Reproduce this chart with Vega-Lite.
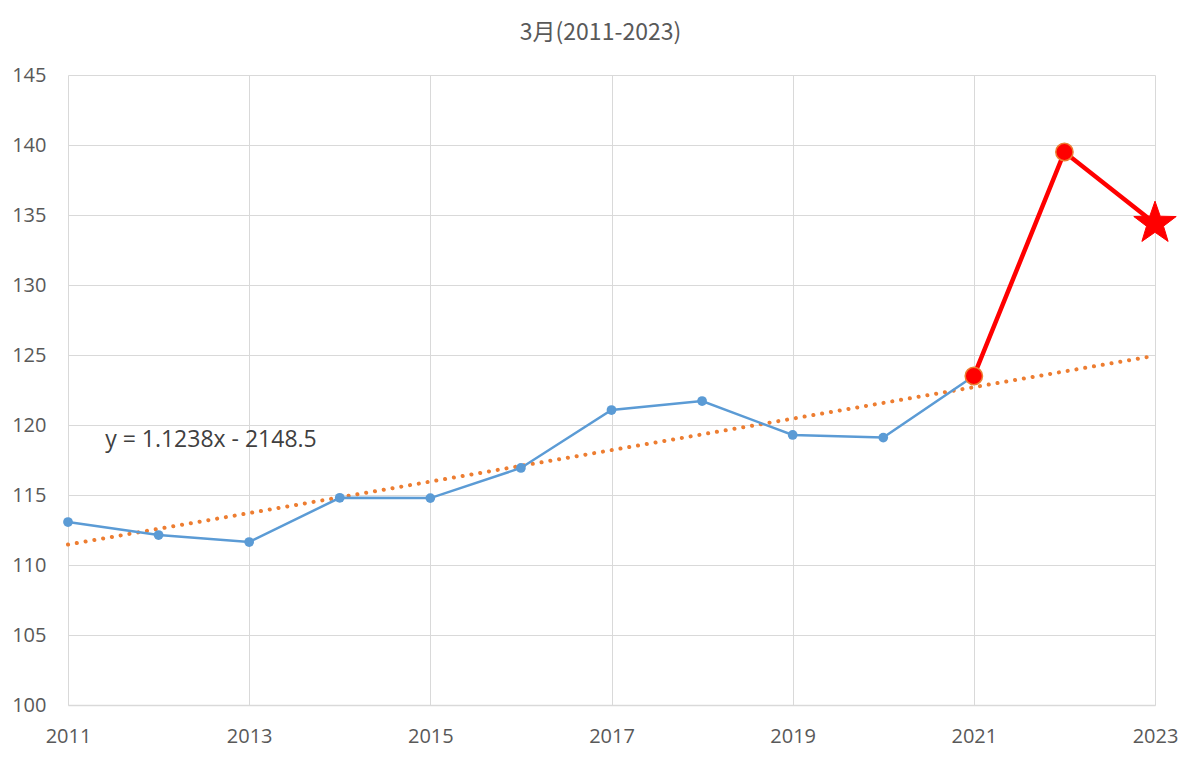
{
  "$schema": "https://vega.github.io/schema/vega-lite/v6.json",
  "width": 1087,
  "height": 630,
  "autosize": {"type": "none"},
  "padding": {"left": 68, "top": 75, "right": 45, "bottom": 57},
  "background": "white",
  "title": {"text": "3月(2011-2023)", "font": "Noto Sans CJK SC", "fontSize": 23, "fontWeight": "normal", "color": "#595959", "anchor": "middle", "frame": "group", "offset": 20, "dx": -11},
  "config": {
    "view": {"stroke": null},
    "axis": {"labelFont": "Open Sans", "labelFontSize": 20, "labelColor": "#595959", "gridColor": "#D9D9D9", "gridWidth": 1, "ticks": false, "title": null, "domainColor": "#D9D9D9", "domainWidth": 1.5, "labelFlush": false}
  },
  "datasets": {
    "base": [
      {"year": 2011, "value": 113.07},
      {"year": 2012, "value": 112.14},
      {"year": 2013, "value": 111.64},
      {"year": 2014, "value": 114.8},
      {"year": 2015, "value": 114.78},
      {"year": 2016, "value": 116.93},
      {"year": 2017, "value": 121.07},
      {"year": 2018, "value": 121.71},
      {"year": 2019, "value": 119.29},
      {"year": 2020, "value": 119.1},
      {"year": 2021, "value": 123.5}
    ],
    "recent": [
      {"year": 2021, "value": 123.5, "shape": "circle"},
      {"year": 2022, "value": 139.5, "shape": "circle"},
      {"year": 2023, "value": 134.4, "shape": "star"}
    ],
    "trend": [
      {"year": 2011, "value": 111.46},
      {"year": 2023, "value": 124.95}
    ],
    "label": [
      {"year": 2011.41, "value": 118.9, "text": "y = 1.1238x - 2148.5"}
    ]
  },
  "encoding": {
    "x": {"field": "year", "type": "quantitative", "scale": {"domain": [2011, 2023], "nice": false, "zero": false},
      "axis": {"values": [2011, 2013, 2015, 2017, 2019, 2021, 2023], "format": "d", "labelPadding": 21, "domain": true, "grid": true}},
    "y": {"field": "value", "type": "quantitative", "scale": {"domain": [100, 145], "nice": false, "zero": false},
      "axis": {"values": [100, 105, 110, 115, 120, 125, 130, 135, 140, 145], "labelPadding": 22, "domain": false, "grid": true}}
  },
  "layer": [
    {
      "data": {"name": "trend"},
      "mark": {"type": "line", "color": "#ED7D31", "strokeWidth": 4, "strokeDash": [0.1, 8.8], "strokeCap": "round"},
      "encoding": {}
    },
    {
      "data": {"name": "base"},
      "mark": {"type": "line", "color": "#5B9BD5", "strokeWidth": 2.5, "point": {"filled": true, "color": "#5B9BD5", "size": 95}},
      "encoding": {}
    },
    {
      "data": {"name": "recent"},
      "mark": {"type": "line", "color": "#FF0000", "strokeWidth": 4.5},
      "encoding": {}
    },
    {
      "data": {"name": "recent"},
      "transform": [{"filter": "datum.shape === 'circle'"}],
      "mark": {"type": "point", "filled": true, "fill": "#FF0000", "stroke": "#ED7D31", "strokeWidth": 1.5, "size": 300, "opacity": 1, "shape": "circle"},
      "encoding": {}
    },
    {
      "data": {"name": "recent"},
      "transform": [{"filter": "datum.shape === 'star'"}],
      "mark": {"type": "point", "filled": true, "fill": "#FF0000", "stroke": "#FF0000", "strokeWidth": 1, "size": 1800, "opacity": 1, "shape": "M0,-1.05L0.247,-0.34L1,-0.324L0.4,0.13L0.618,0.85L0,0.42L-0.618,0.85L-0.4,0.13L-1,-0.324L-0.247,-0.34Z"},
      "encoding": {}
    },
    {
      "data": {"name": "label"},
      "mark": {"type": "text", "align": "left", "baseline": "middle", "font": "Open Sans", "fontSize": 23, "color": "#404040"},
      "encoding": {"text": {"field": "text"}}
    }
  ]
}
